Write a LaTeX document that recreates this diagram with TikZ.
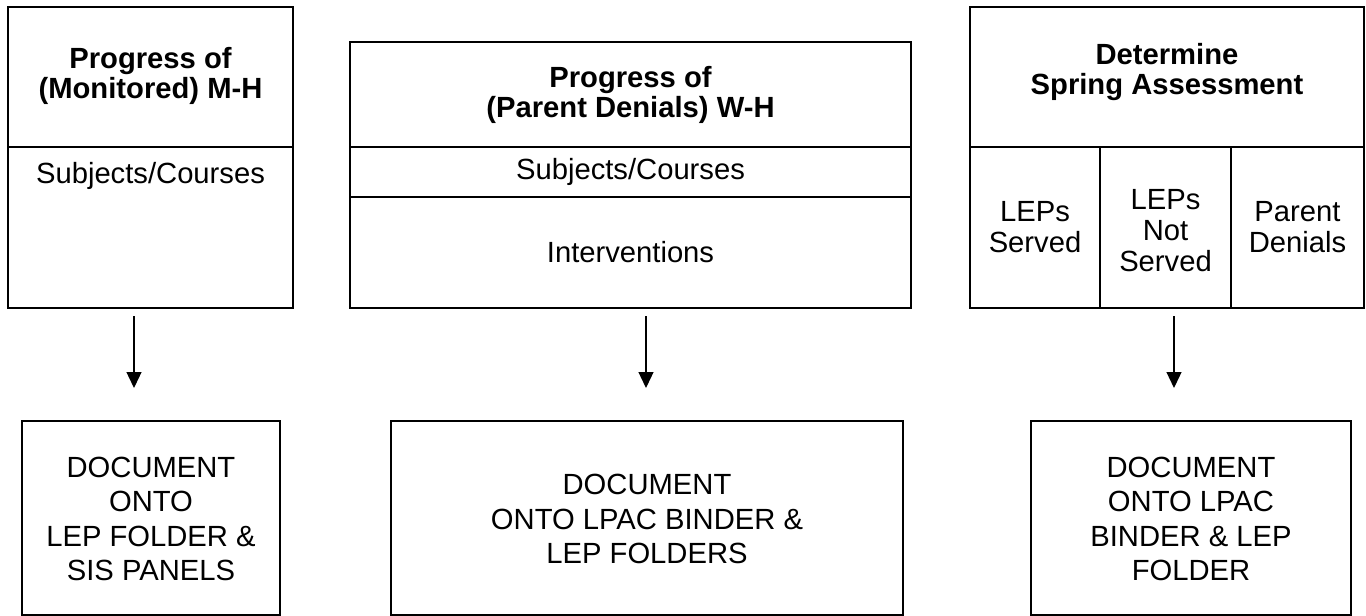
\documentclass[tikz,border=0pt]{standalone}
\usepackage{fontspec}
\setmainfont{Liberation Sans}
\usetikzlibrary{arrows.meta}
\tikzset{
  cell/.style={draw=black, line width=2pt, inner sep=0pt, fill=none},
  txt/.style={inner sep=0pt, align=center, font=\fontsize{29.2}{31}\selectfont},
  hdr/.style={inner sep=0pt, align=center, font=\fontsize{29.2}{30.5}\selectfont\bfseries},
  btxt/.style={inner sep=0pt, align=center, font=\fontsize{29.2}{34.6}\selectfont},
  arr/.style={draw=black, line width=1.3pt, -{Triangle[length=16pt,width=15pt]}}
}
\begin{document}
\begin{tikzpicture}[x=1pt,y=-1pt]
\useasboundingbox (0,0) rectangle (1366,616);
% Box 1
\node[cell, minimum width=285pt, minimum height=140pt] (h1) at (150.5,77) {};
\node[cell, minimum width=285pt, minimum height=161pt] (l1) at (150.5,227.5) {};
\node[hdr] (h1t) at (150.5,76) {Progress of\\(Monitored) M-H};
\node[txt] (l1t) at (150.5,176) {Subjects/Courses};
% Box 2
\node[cell, minimum width=561pt, minimum height=105pt] (h2) at (630.5,94.5) {};
\node[cell, minimum width=561pt, minimum height=50pt] (s2) at (630.5,172) {};
\node[cell, minimum width=561pt, minimum height=111pt] (i2) at (630.5,252.5) {};
\node[hdr] (h2t) at (630.5,95) {Progress of\\(Parent Denials) W-H};
\node[txt] (s2t) at (630.5,172) {Subjects/Courses};
\node[txt] (i2t) at (630.5,252.5) {Interventions};
% Box 3
\node[cell, minimum width=394pt, minimum height=140pt] (h3) at (1167,77) {};
\node[hdr] (h3t) at (1167,72) {Determine\\Spring Assessment};
\node[cell, minimum width=130pt, minimum height=161pt] (c31) at (1035,227.5) {};
\node[cell, minimum width=131pt, minimum height=161pt] (c32) at (1165.5,227.5) {};
\node[cell, minimum width=133pt, minimum height=161pt] (c33) at (1297.5,227.5) {};
\node[txt] (c31t) at (1035,227.5) {LEPs\\Served};
\node[txt] (c32t) at (1165.5,231) {LEPs\\Not\\Served};
\node[txt] (c33t) at (1297.5,227.5) {Parent\\Denials};
% Bottom boxes
\node[cell, minimum width=258pt, minimum height=194pt] (b1) at (151,518) {};
\node[btxt] (b1t) at (151,519) {DOCUMENT\\ONTO\\LEP FOLDER \&\\SIS PANELS};
\node[cell, minimum width=512pt, minimum height=194pt] (b2) at (647,518) {};
\node[btxt] (b2t) at (647,519) {DOCUMENT\\ONTO LPAC BINDER \&\\LEP FOLDERS};
\node[cell, minimum width=320pt, minimum height=194pt] (b3) at (1191,518) {};
\node[btxt] (b3t) at (1191,519) {DOCUMENT\\ONTO LPAC\\BINDER \& LEP\\FOLDER};
% Arrows
\coordinate (a1s) at (134,316); \coordinate (a1e) at (134,388);
\coordinate (a2s) at (646,316); \coordinate (a2e) at (646,388);
\coordinate (a3s) at (1174,316); \coordinate (a3e) at (1174,388);
\draw[arr] (a1s) -- (a1e);
\draw[arr] (a2s) -- (a2e);
\draw[arr] (a3s) -- (a3e);
\end{tikzpicture}
\end{document}
